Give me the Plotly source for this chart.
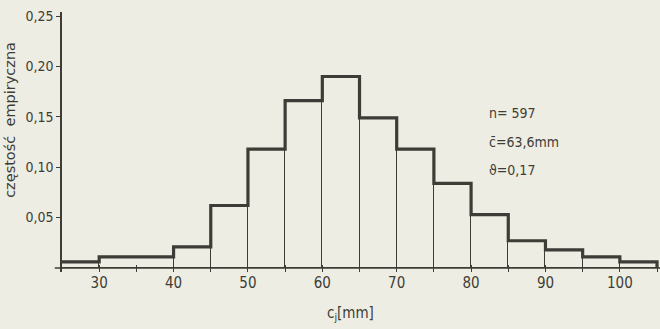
import plotly.graph_objects as go

# Data
bin_edges = [25, 30, 40, 45, 50, 55, 60, 65, 70, 75, 80, 85, 90, 95, 100, 105]
freq = [0.006, 0.011, 0.021, 0.062, 0.118, 0.166, 0.190, 0.149, 0.118, 0.084,
        0.053, 0.027, 0.018, 0.011, 0.006]
x_tick_pos = [30, 40, 50, 60, 70, 80, 90, 100]
x_tick_labels = ["30", "40", "50", "60", "70", "80", "90", "100"]
x_minor_pos = [25, 35, 45, 55, 65, 75, 85, 95, 105]
y_tick_pos = [0.05, 0.10, 0.15, 0.20, 0.25]
y_tick_labels = ["0,05", "0,10", "0,15", "0,20", "0,25"]
stats_lines = ["n= 597", "c\u0304=63,6mm", "\u03d1=0,17"]

BG = "#eeede3"
INK = "#3d3d37"
FONT = "Liberation Sans Narrow, DejaVu Sans Condensed, Roboto, sans-serif"

centers = [(a + b) / 2 for a, b in zip(bin_edges[:-1], bin_edges[1:])]
widths = [b - a for a, b in zip(bin_edges[:-1], bin_edges[1:])]

fig = go.Figure()
# thin bar outlines
fig.add_trace(go.Bar(
    x=centers, y=freq, width=widths,
    marker=dict(color="rgba(0,0,0,0)", line=dict(color=INK, width=1)),
    hoverinfo="skip", showlegend=False,
))
# thick staircase outline
step_x = bin_edges + [bin_edges[-1]]
step_y = freq + [freq[-1], 0]
fig.add_trace(go.Scatter(
    x=step_x, y=step_y, mode="lines",
    line=dict(color=INK, width=3.2, shape="hv"),
    hoverinfo="skip", showlegend=False,
))

fig.update_layout(
    width=660, height=329,
    margin=dict(l=62, r=0, t=12, b=57),
    paper_bgcolor=BG, plot_bgcolor=BG,
    font=dict(family=FONT, size=13, color=INK),
    bargap=0,
    xaxis=dict(
        range=[25, 105.4], tickmode="array", tickvals=x_tick_pos, ticktext=x_tick_labels,
        ticks="inside", ticklen=7, tickwidth=1.3, tickcolor=INK,
        minor=dict(tickmode="array", tickvals=x_minor_pos, ticks="inside", ticklen=7,
                   tickwidth=1.3, tickcolor=INK, showgrid=False),
        showline=False, showgrid=False, zeroline=False,
        tickfont=dict(size=15, color=INK), fixedrange=True,
    ),
    yaxis=dict(
        range=[-0.004, 0.254], tickmode="array", tickvals=y_tick_pos, ticktext=y_tick_labels,
        ticks="outside", ticklen=4, tickwidth=1, tickcolor=INK,
        showline=True, linecolor=INK, linewidth=1.5,
        showgrid=False, zeroline=False,
        tickfont=dict(size=14, color=INK), fixedrange=True,
    ),
    shapes=[dict(type="line", xref="paper", yref="y", x0=-0.012, x1=1, y0=0, y1=0,
                 line=dict(color=INK, width=1.5))],
)

annots = [
    dict(text="częstość  empiryczna", xref="paper", yref="paper", x=-0.087, y=0.585,
         textangle=-90, showarrow=False,
         font=dict(size=14.5, color=INK, family="DejaVu Sans, Roboto, sans-serif"),
         xanchor="center", yanchor="middle"),
    dict(text="c<sub>j</sub>[mm]", xref="paper", yref="paper", x=0.482, y=-0.158,
         showarrow=False, font=dict(size=15, color=INK), xanchor="center", yanchor="middle"),
]
for i, s in enumerate(stats_lines):
    annots.append(dict(text=s, xref="paper", yref="paper", x=(487 - 62) / 598,
                       y=(272 - (113 + i * 28.5)) / 260, showarrow=False,
                       xanchor="left", yanchor="middle", font=dict(size=14, color=INK)))
fig.update_layout(annotations=annots)

fig.write_html(
    "out.html",
    config={"displayModeBar": False},
    post_script="document.body.style.margin='0';document.body.style.background='#eeede3';",
)
